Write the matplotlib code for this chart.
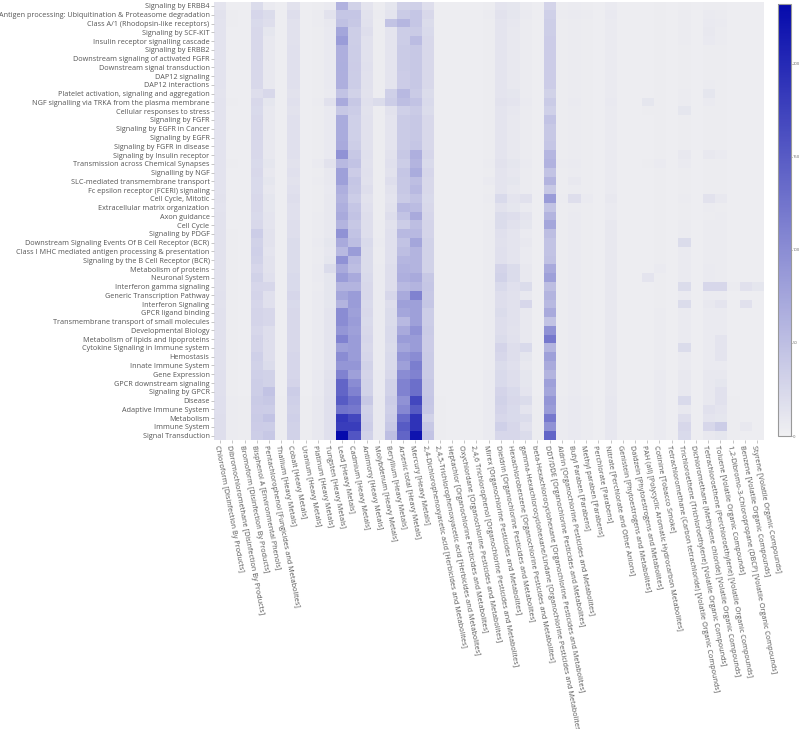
import matplotlib
matplotlib.use("Agg")
import matplotlib.pyplot as plt
import numpy as np
from matplotlib.colors import LinearSegmentedColormap

pathways = [
    "Signaling by ERBB4",
    "Antigen processing: Ubiquitination & Proteasome degradation",
    "Class A/1 (Rhodopsin-like receptors)",
    "Signaling by SCF-KIT",
    "Insulin receptor signalling cascade",
    "Signaling by ERBB2",
    "Downstream signaling of activated FGFR",
    "Downstream signal transduction",
    "DAP12 signaling",
    "DAP12 interactions",
    "Platelet activation, signaling and aggregation",
    "NGF signalling via TRKA from the plasma membrane",
    "Cellular responses to stress",
    "Signaling by FGFR",
    "Signaling by EGFR in Cancer",
    "Signaling by EGFR",
    "Signaling by FGFR in disease",
    "Signaling by Insulin receptor",
    "Transmission across Chemical Synapses",
    "Signalling by NGF",
    "SLC-mediated transmembrane transport",
    "Fc epsilon receptor (FCERI) signaling",
    "Cell Cycle, Mitotic",
    "Extracellular matrix organization",
    "Axon guidance",
    "Cell Cycle",
    "Signaling by PDGF",
    "Downstream Signaling Events Of B Cell Receptor (BCR)",
    "Class I MHC mediated antigen processing & presentation",
    "Signaling by the B Cell Receptor (BCR)",
    "Metabolism of proteins",
    "Neuronal System",
    "Interferon gamma signaling",
    "Generic Transcription Pathway",
    "Interferon Signaling",
    "GPCR ligand binding",
    "Transmembrane transport of small molecules",
    "Developmental Biology",
    "Metabolism of lipids and lipoproteins",
    "Cytokine Signaling in Immune system",
    "Hemostasis",
    "Innate Immune System",
    "Gene Expression",
    "GPCR downstream signaling",
    "Signaling by GPCR",
    "Disease",
    "Adaptive Immune System",
    "Metabolism",
    "Immune System",
    "Signal Transduction",
]

chemicals = [
    "Chloroform [Disinfection By Products]",
    "Dibromochloromethane [Disinfection By Products]",
    "Bromoform [Disinfection By Products]",
    "Bisphenol A [Environmental Phenols]",
    "Pentachlorophenol [Fungicides and Metabolites]",
    "Thallium [Heavy Metals]",
    "Cobalt [Heavy Metals]",
    "Uranium [Heavy Metals]",
    "Platinum [Heavy Metals]",
    "Tungsten [Heavy Metals]",
    "Lead [Heavy Metals]",
    "Cadmium [Heavy Metals]",
    "Antimony [Heavy Metals]",
    "Molybdenum [Heavy Metals]",
    "Beryllium [Heavy Metals]",
    "Arsenic total [Heavy Metals]",
    "Mercury [Heavy Metals]",
    "2,4-Dichlorophenoxyacetic acid [Herbicides and Metabolites]",
    "2,4,5-Trichlorophenoxyacetic acid [Herbicides and Metabolites]",
    "Heptachlor [Organochlorine Pesticides and Metabolites]",
    "Oxychlordane [Organochlorine Pesticides and Metabolites]",
    "2,4,6 Trichlorophenol [Organochlorine Pesticides and Metabolites]",
    "Mirex [Organochlorine Pesticides and Metabolites]",
    "Dieldrin [Organochlorine Pesticides and Metabolites]",
    "Hexachlorobenzene [Organochlorine Pesticides and Metabolites]",
    "gamma-Hexachlorocyclohexane/Lindane [Organochlorine Pesticides and Metabolites]",
    "beta-Hexachlorocyclohexane [Organochlorine Pesticides and Metabolites]",
    "DDT/DDE [Organochlorine Pesticides and Metabolites]",
    "Aldrin [Organochlorine Pesticides and Metabolites]",
    "Butyl Paraben [Parabens]",
    "Methyl paraben [Parabens]",
    "Perchlorate [Parabens]",
    "Nitrate [Perchlorate and Other Anions]",
    "Genistein [Phytoestrogens and Metabolites]",
    "Daidzein [Phytoestrogens and Metabolites]",
    "PAH (all) [Polycyclic Aromatic Hydrocarbon Metabolites]",
    "Cotinine [Tobacco Smoke]",
    "Tetrachloromethane (Carbon tetrachloride) [Volatile Organic Compounds]",
    "Trichloroethene (Trichloroethylene) [Volatile Organic Compounds]",
    "Dichloromethane (Methylene chloride) [Volatile Organic Compounds]",
    "Tetrachloroethene (Perchloroethylene) [Volatile Organic Compounds]",
    "Toluene [Volatile Organic Compounds]",
    "1,2-Dibromo-3-Chloropropane (DBCP) [Volatile Organic Compounds]",
    "Benzene [Volatile Organic Compounds]",
    "Styrene [Volatile Organic Compounds]",
]

# one row per pathway (top to bottom), one value per chemical (left to right)
counts = [
    [12,3,3,20,6,3,14,3,4,6, 62,30,12,4,10,30,32,18, 3,3,3,3,4,12,10,5,3,28,4,5,4,3,6,3,3,3,4,3,4,3,4,4,3,3,3],
    [14,4,3,26,20,3,18,3,5,14, 42,42,14,5,12,38,42,24, 3,3,3,3,5,14,10,6,3,32,5,6,5,3,7,3,3,3,4,3,5,3,6,5,3,3,3],
    [13,4,3,22,18,3,15,3,5,8, 48,40,15,4,45,58,42,20, 3,3,3,3,4,12,9,5,3,34,4,5,4,3,6,3,3,3,4,3,5,3,7,6,3,3,3],
    [13,3,3,24,10,3,15,3,4,7, 75,34,18,4,12,35,38,22, 3,3,3,3,4,12,8,5,3,34,4,5,4,3,6,3,3,3,4,3,5,3,8,5,3,3,3],
    [13,3,3,24,8,3,15,3,4,7, 85,34,15,4,12,35,52,24, 3,3,3,3,4,12,8,5,3,36,4,5,4,3,6,3,3,3,4,3,5,3,7,5,3,3,3],
    [13,3,3,24,8,3,16,3,4,7, 65,35,15,4,12,38,40,24, 3,3,3,3,4,12,8,5,3,36,4,5,4,3,6,3,3,3,4,3,4,3,4,4,3,3,3],
    [13,3,3,24,8,3,16,3,4,7, 65,35,15,4,12,38,40,24, 3,3,3,3,4,12,8,5,3,36,4,5,4,3,6,3,3,3,4,3,4,3,4,4,3,3,3],
    [13,3,3,24,8,3,16,3,4,7, 66,36,16,4,12,38,40,24, 3,3,3,3,4,12,8,5,3,36,4,5,4,3,6,3,3,3,4,3,4,3,4,4,3,3,3],
    [13,3,3,24,8,3,16,3,4,7, 65,35,15,4,12,36,40,24, 3,3,3,3,4,12,8,5,3,36,4,5,4,3,6,3,3,3,4,3,4,3,4,4,3,3,3],
    [13,3,3,24,8,3,16,3,4,7, 65,35,15,4,12,36,40,24, 3,3,3,3,4,12,8,5,3,36,4,5,4,3,6,3,3,3,4,3,4,3,5,4,3,3,3],
    [12,3,3,18,24,3,14,3,4,6, 45,30,14,4,32,55,38,20, 3,3,3,3,4,12,10,5,3,30,4,5,4,3,6,3,3,3,4,3,5,3,10,4,3,3,3],
    [13,4,3,24,10,3,16,3,5,15, 70,40,16,20,35,50,45,22, 3,3,3,3,4,14,12,6,3,38,4,6,4,3,7,3,3,10,4,3,5,3,6,4,3,3,3],
    [13,3,3,22,8,3,14,3,4,7, 40,35,14,4,14,32,38,20, 3,3,3,3,4,12,9,5,3,32,4,5,4,3,6,3,3,4,4,3,10,3,4,4,3,3,3],
    [13,3,3,24,8,3,16,3,4,7, 68,32,15,4,12,38,40,24, 3,3,3,3,4,12,8,5,3,45,4,5,4,3,6,3,3,3,4,3,4,3,4,4,3,3,3],
    [13,3,3,24,8,3,16,3,4,7, 68,32,15,4,12,38,40,24, 3,3,3,3,4,12,8,5,3,40,4,5,4,3,6,3,3,3,4,3,4,3,4,4,3,3,3],
    [13,3,3,24,8,3,16,3,4,7, 68,32,15,4,12,38,40,24, 3,3,3,3,4,12,8,5,3,40,4,5,4,3,6,3,3,3,4,3,4,3,4,4,3,3,3],
    [13,3,3,24,8,3,16,3,4,7, 70,34,15,4,12,38,42,24, 3,3,3,3,4,12,8,5,3,42,4,5,4,3,6,3,3,3,4,3,4,3,4,4,3,3,3],
    [13,3,3,24,8,3,16,3,4,7, 95,40,16,4,14,40,65,26, 3,3,3,3,4,12,8,5,3,58,4,5,4,3,6,3,3,3,4,3,8,3,8,6,3,3,3],
    [13,4,3,22,10,3,14,3,6,14, 55,45,15,4,16,35,60,22, 3,3,3,3,5,14,10,6,3,62,5,6,4,3,6,3,3,4,6,3,6,3,4,4,3,3,3],
    [13,3,3,24,8,3,16,3,4,8, 80,36,16,4,14,42,68,26, 3,3,3,3,4,12,9,5,3,45,4,5,4,3,6,3,3,3,4,3,4,3,4,4,3,3,3],
    [13,3,3,22,10,3,14,3,5,8, 80,42,15,4,18,40,50,24, 3,3,3,3,6,12,10,5,3,60,4,8,4,3,6,3,3,3,4,3,4,3,4,4,3,3,3],
    [13,3,3,22,8,3,16,3,4,7, 65,40,18,4,14,40,55,24, 3,3,3,3,4,12,8,5,3,40,4,5,4,3,6,3,3,3,4,3,4,3,4,4,3,3,3],
    [14,3,3,24,10,3,18,3,4,8, 60,35,14,4,12,38,45,22, 3,3,3,3,5,22,12,15,3,85,5,18,6,3,8,3,3,3,4,3,5,3,14,8,3,3,3],
    [13,3,3,24,10,3,16,3,4,8, 65,42,16,4,14,55,52,24, 3,3,3,3,4,14,10,6,3,45,4,5,4,3,6,3,3,3,4,3,4,3,5,4,3,3,3],
    [14,3,3,22,12,3,16,3,5,8, 70,45,18,4,18,45,70,26, 3,3,3,3,4,20,18,12,3,60,4,6,4,3,6,3,3,3,4,3,4,3,4,5,3,3,3],
    [14,3,3,24,12,3,18,3,5,8, 60,40,18,5,14,35,50,28, 3,3,3,3,5,20,15,10,3,75,4,6,4,3,8,3,3,3,4,3,5,3,5,5,3,3,3],
    [14,4,3,35,14,3,18,3,5,8, 95,45,18,5,16,55,55,28, 3,3,3,3,5,16,12,6,3,50,4,6,4,3,8,3,3,3,4,3,5,3,5,5,3,3,3],
    [14,4,3,30,14,3,20,3,6,10, 70,50,22,6,16,45,75,30, 3,3,3,3,5,15,12,8,3,45,4,6,4,3,8,3,3,3,4,3,20,3,5,5,3,3,3],
    [14,4,3,32,12,3,20,3,5,9, 55,85,20,5,16,50,60,30, 3,3,3,3,5,16,12,6,3,45,4,6,4,3,8,3,3,3,4,3,6,3,5,5,3,3,3],
    [14,4,3,30,14,3,20,3,5,10, 95,55,20,5,16,58,60,30, 3,3,3,3,5,16,12,6,3,48,4,6,4,3,8,3,3,3,4,3,6,3,5,5,3,3,3],
    [14,4,3,26,14,3,20,3,6,20, 70,50,20,6,18,62,60,30, 3,3,3,3,5,28,20,8,3,70,4,6,4,3,8,3,3,3,6,3,6,3,6,5,3,3,3],
    [14,4,3,30,16,3,22,3,6,10, 85,70,22,6,18,65,70,40, 3,3,3,3,5,30,20,8,3,80,4,6,4,3,8,3,3,12,4,3,6,3,6,5,3,3,3],
    [14,4,3,26,25,3,22,3,5,10, 60,60,24,6,18,55,60,42, 3,3,3,3,5,22,16,20,3,50,4,6,4,3,8,3,3,3,4,3,20,3,25,25,5,15,10],
    [15,4,3,28,16,3,26,3,6,10, 75,85,24,6,25,70,110,40, 3,3,3,3,5,18,15,8,3,60,4,6,4,3,8,3,3,3,4,3,6,3,6,6,3,3,3],
    [14,4,3,26,16,3,22,3,6,10, 60,85,22,6,18,80,80,42, 3,3,3,3,5,18,15,25,3,55,4,6,4,3,8,3,3,3,4,3,20,3,8,12,3,15,3],
    [15,4,3,28,25,3,24,3,6,12, 100,80,24,6,20,75,80,35, 3,3,3,3,5,20,15,8,3,70,4,6,4,3,8,3,3,3,5,3,6,3,6,6,3,3,3],
    [15,4,3,28,25,3,24,3,6,12, 100,85,22,6,20,55,80,35, 3,3,3,3,5,18,15,8,3,45,4,6,4,3,8,3,3,3,5,3,6,3,6,6,3,3,3],
    [15,4,3,25,18,3,24,3,6,12, 90,80,24,6,22,70,95,38, 3,3,3,3,5,18,14,8,3,95,4,6,4,3,8,3,3,3,5,3,6,3,6,6,3,3,3],
    [15,4,3,28,18,3,24,3,6,12, 110,85,26,6,22,85,85,36, 3,3,3,3,5,20,15,8,3,120,4,6,4,3,8,3,3,3,5,3,6,3,6,12,3,3,3],
    [15,4,3,28,18,3,24,3,6,12, 80,85,24,6,20,75,85,36, 3,3,3,3,5,28,18,22,3,60,4,6,4,3,8,3,3,3,5,3,20,3,6,12,3,3,3],
    [15,4,3,32,18,3,26,3,6,12, 100,85,26,6,22,90,100,38, 3,3,3,3,5,25,18,10,3,80,4,6,4,3,8,3,3,3,5,3,6,3,6,12,3,3,3],
    [15,4,3,30,20,3,26,3,6,12, 90,90,30,6,22,80,115,38, 3,3,3,3,5,20,16,8,3,70,4,6,4,3,8,3,3,3,5,3,6,3,6,6,3,3,3],
    [16,4,3,32,30,3,26,3,7,14, 110,80,28,7,24,100,110,38, 3,3,3,3,6,22,18,10,3,60,4,6,4,3,8,3,3,3,6,3,8,3,8,8,3,3,3],
    [16,4,3,34,30,3,28,3,7,15, 140,100,30,7,30,110,130,40, 3,3,3,3,6,22,18,10,3,80,4,6,4,3,8,3,3,3,6,3,8,3,8,10,3,3,3],
    [16,4,3,34,45,3,35,3,7,15, 140,110,30,7,30,110,130,40, 3,3,3,3,6,28,22,12,3,75,4,6,4,3,8,3,3,3,6,3,8,3,8,15,3,3,3],
    [17,5,4,38,40,4,32,4,8,16, 150,130,40,8,35,95,170,42, 4,3,3,3,6,30,24,20,4,90,5,7,5,3,9,3,3,3,6,3,22,3,8,15,4,3,3],
    [17,5,4,36,35,4,30,4,8,16, 125,120,30,8,32,105,150,40, 4,3,3,3,6,28,22,12,4,85,5,7,5,3,9,3,3,3,6,3,8,3,15,12,4,3,3],
    [18,5,4,38,45,4,32,4,8,16, 185,170,32,8,35,135,190,30, 4,3,3,3,6,25,22,20,4,120,5,7,5,3,9,3,3,3,6,3,18,3,12,10,4,3,3],
    [18,5,4,36,35,4,30,4,8,16, 180,180,35,8,40,150,190,40, 4,3,3,3,6,32,25,15,4,95,5,7,5,3,9,3,3,3,6,3,25,3,25,35,4,8,3],
    [18,5,4,34,40,4,30,4,8,16, 232,155,30,8,50,140,222,45, 4,3,3,3,6,25,25,20,4,140,5,7,5,3,9,3,3,3,6,3,22,3,8,10,4,3,3],
]

colorbar_ticks = [0, 50, 100, 150, 200]

plt.rcParams['font.family'] = ['Open Sans', 'DejaVu Sans']

data = np.array(counts, dtype=float)
cmap = LinearSegmentedColormap.from_list(
    "greyblue", [(240/255, 240/255, 242/255), (5/255, 10/255, 172/255)])

W, H = 800, 729
fig = plt.figure(figsize=(W/100, H/100), dpi=100)
ax = fig.add_axes([214/W, 1 - 440/H, (763-214)/W, (440-1.6)/H])
im = ax.imshow(data, aspect='auto', cmap=cmap, vmin=0, vmax=232,
               interpolation='nearest')

txt = '#555555'
ax.set_yticks(np.arange(len(pathways)))
ax.set_yticklabels(pathways, fontsize=5.2, color=txt)
ax.set_xticks(np.arange(len(chemicals)))
ax.set_xticklabels(chemicals, fontsize=5.2, color=txt, rotation=-79,
                   ha='left', va='top', rotation_mode='anchor')
ax.tick_params(axis='both', length=2, width=0.6, color='#bbbbbb', pad=1.2)
for s in ax.spines.values():
    s.set_visible(False)

cax = fig.add_axes([778/W, 1 - 436/H, 13/W, (436-4)/H])
cb = fig.colorbar(im, cax=cax, ticks=colorbar_ticks)
cb.outline.set_edgecolor('#999999')
cb.outline.set_linewidth(0.8)
cax.tick_params(labelsize=3.0, colors='#666666', length=1.0, width=0.5, pad=0.5)

fig.savefig("out.png", dpi=100)
